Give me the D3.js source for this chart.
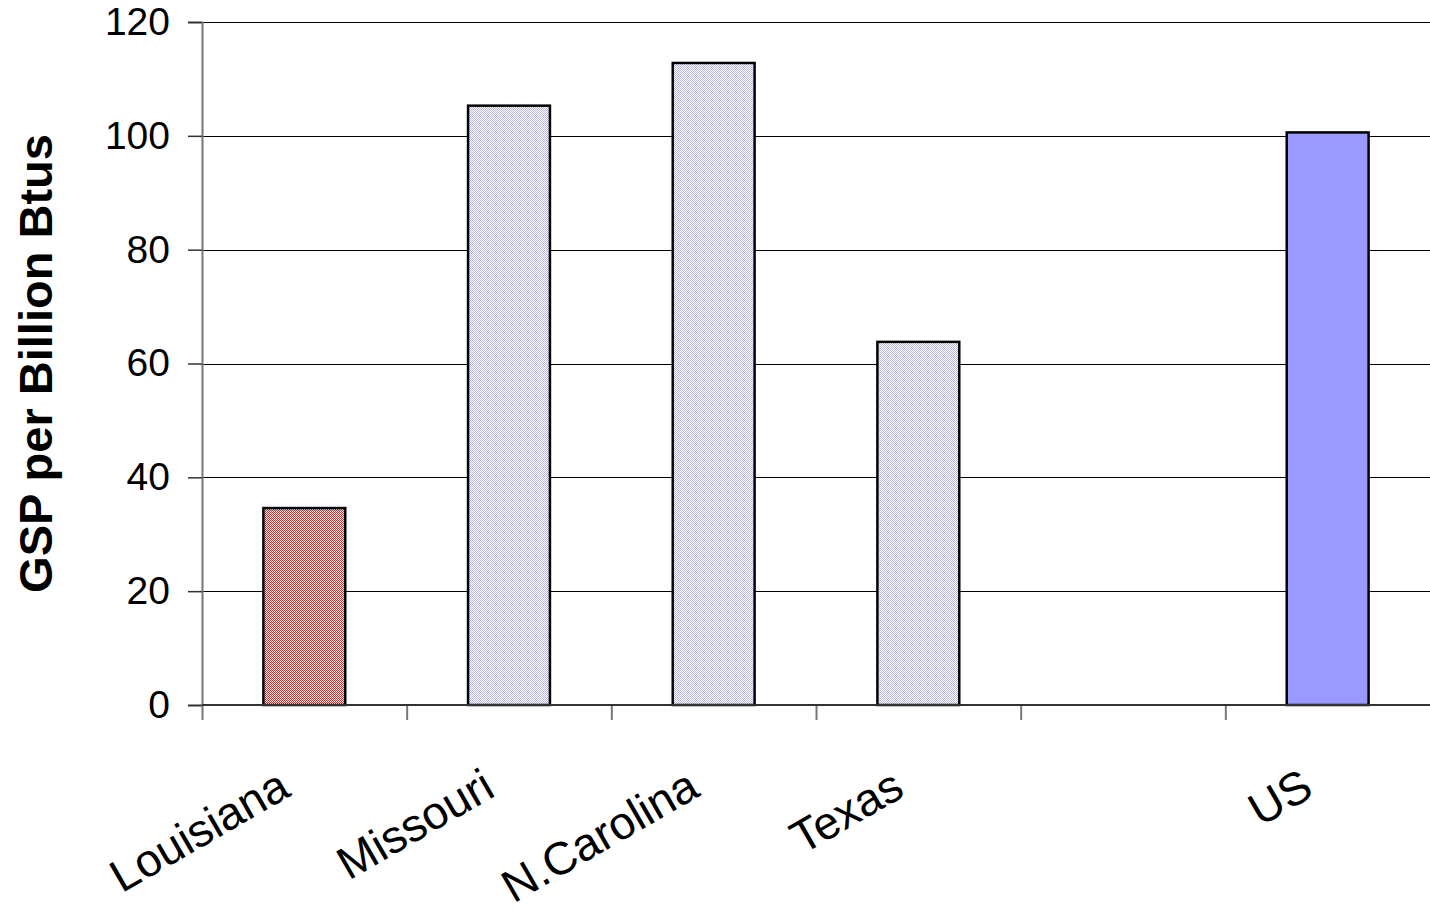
<!DOCTYPE html>
<html>
<head>
<meta charset="utf-8">
<script src="https://cdn.jsdelivr.net/npm/d3@7"></script>
<style>
  body { margin: 0; background: #fff; }
  text { font-family: Arial, "Liberation Sans", sans-serif; }
</style>
</head>
<body>
<div id="chart"></div>
<script>
// data
const categories = ['Louisiana', 'Missouri', 'N.Carolina', 'Texas', '', 'US'];
const values = [34.6, 105.3, 112.8, 63.8, null, 100.6];
const fills = ['url(#redCheck)', 'url(#grayCheck)', 'url(#grayCheck)', 'url(#grayCheck)', 'none', '#9999ff'];
const yTicks = [0, 20, 40, 60, 80, 100, 120];

const width = 1430, height = 910;
const margin = { top: 22, right: 0, left: 202, bottom: 205 };
const innerW = width - margin.left - margin.right;
const innerH = height - margin.top - margin.bottom;

const svg = d3.select('#chart')
    .append('svg')
    .attr('width', width)
    .attr('height', height);

const defs = svg.append('defs');
function checker(id, color) {
    const p = defs.append('pattern')
        .attr('id', id)
        .attr('width', 2).attr('height', 2)
        .attr('patternUnits', 'userSpaceOnUse');
    p.append('rect').attr('width', 2).attr('height', 2).attr('fill', '#fff');
    p.append('rect').attr('width', 1).attr('height', 1).attr('fill', color);
    p.append('rect').attr('x', 1).attr('y', 1).attr('width', 1).attr('height', 1).attr('fill', color);
}
checker('redCheck', '#ff1a1a');
checker('grayCheck', '#b4b4ee');

const g = svg.append('g')
    .attr('transform', `translate(${margin.left},${margin.top})`);

const x = d3.scaleBand()
    .domain(d3.range(categories.length))
    .range([0, innerW])
    .paddingInner(0.6)
    .paddingOuter(0.3);

const y = d3.scaleLinear()
    .domain([0, 120])
    .range([innerH, 0]);

// gridlines
g.append('g')
    .selectAll('line')
    .data(yTicks.filter(d => d > 0))
    .enter()
    .append('line')
    .attr('x1', 0)
    .attr('x2', innerW)
    .attr('y1', d => Math.round(y(d)) + 0.5)
    .attr('y2', d => Math.round(y(d)) + 0.5)
    .style('stroke', '#000')
    .style('stroke-width', 1.2);

// y axis
const yAxis = g.append('g')
    .attr('class', 'y-axis')
    .call(d3.axisLeft(y).tickValues(yTicks).tickSize(14).tickPadding(18));
yAxis.select('.domain').style('stroke', '#777').style('stroke-width', 2);
yAxis.selectAll('.tick line').style('stroke', '#333').style('stroke-width', 1.5);
yAxis.selectAll('.tick text')
    .style('font-size', '39px')
    .style('fill', '#000');

// x axis: tick marks at category boundaries
const step = x.step();
const bounds = d3.range(categories.length).map(i => i * step);
g.append('g')
    .selectAll('line')
    .data(bounds)
    .enter()
    .append('line')
    .attr('x1', d => d + 0.5)
    .attr('x2', d => d + 0.5)
    .attr('y1', innerH)
    .attr('y2', innerH + 15)
    .style('stroke', '#777')
    .style('stroke-width', 2);

// bars
const barData = categories.map((c, i) => ({ i, c, v: values[i], f: fills[i] }))
    .filter(d => d.v != null);
g.selectAll('.bar')
    .data(barData)
    .enter()
    .append('rect')
    .attr('class', 'bar')
    .attr('x', d => x(d.i))
    .attr('y', d => y(d.v))
    .attr('width', x.bandwidth())
    .attr('height', d => innerH - y(d.v))
    .style('fill', d => d.f)
    .style('stroke', '#000')
    .style('stroke-width', 2.5);

// x axis line
g.append('line')
    .attr('x1', 0).attr('x2', innerW)
    .attr('y1', innerH).attr('y2', innerH)
    .style('stroke', '#333')
    .style('stroke-width', 2);

// category labels
g.selectAll('.xlabel')
    .data(categories.map((c, i) => ({ c, i })).filter(d => d.c))
    .enter()
    .append('text')
    .attr('class', 'xlabel')
    .attr('transform', d => `translate(${x(d.i) + x.bandwidth() / 2 - 12},${innerH + 90}) rotate(-30)`)
    .style('text-anchor', 'end')
    .style('font-size', '46px')
    .text(d => d.c);

// y title
svg.append('text')
    .attr('transform', `translate(52,${margin.top + innerH / 2}) rotate(-90)`)
    .style('text-anchor', 'middle')
    .style('font-size', '47px')
    .style('font-weight', 'bold')
    .text('GSP per Billion Btus');
</script>
</body>
</html>
